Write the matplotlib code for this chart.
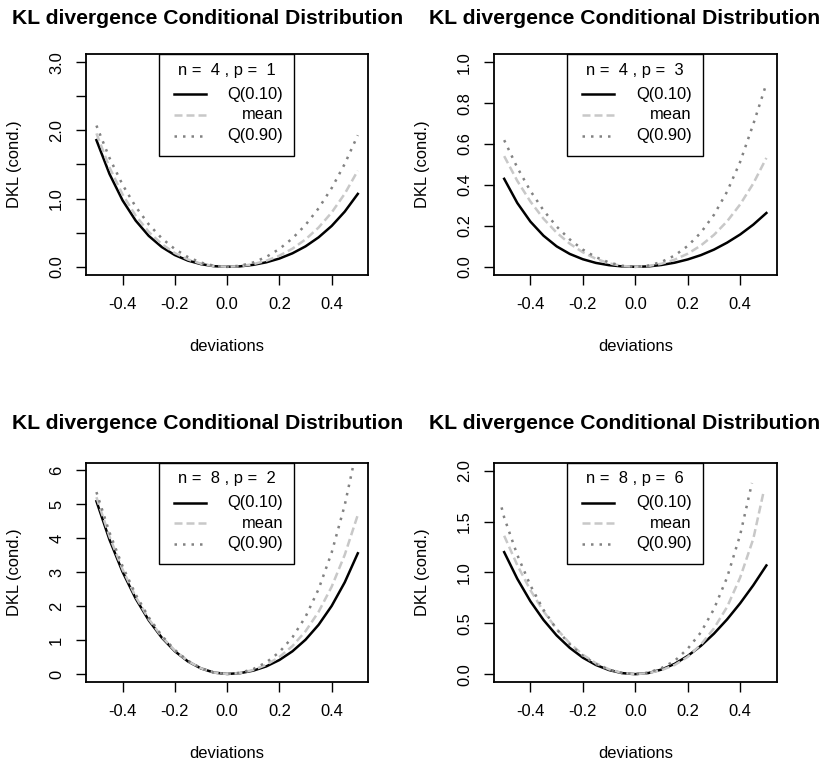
import matplotlib
matplotlib.use("Agg")
import matplotlib.pyplot as plt
from matplotlib.patches import Rectangle
from matplotlib.lines import Line2D

plt.rcParams['font.family'] = ['Liberation Sans', 'DejaVu Sans']

# deviations grid (x values)
devs = [-0.5, -0.45, -0.4, -0.35, -0.3, -0.25, -0.2, -0.15, -0.1, -0.05, 0.0,
        0.05, 0.1, 0.15, 0.2, 0.25, 0.3, 0.35, 0.4, 0.45, 0.5]

# n = 4, p = 1
p1_q10 = [1.857, 1.361, 0.974, 0.678, 0.454, 0.290, 0.172, 0.091, 0.039, 0.009, 0,
          0.007, 0.029, 0.066, 0.121, 0.198, 0.300, 0.432, 0.599, 0.809, 1.069]
p1_mean = [1.956, 1.457, 1.061, 0.751, 0.513, 0.333, 0.201, 0.108, 0.046, 0.011, 0,
           0.010, 0.039, 0.089, 0.164, 0.266, 0.402, 0.576, 0.796, 1.071, 1.410]
p1_q90 = [2.071, 1.596, 1.203, 0.882, 0.623, 0.418, 0.260, 0.143, 0.062, 0.015, 0,
          0.016, 0.064, 0.145, 0.262, 0.417, 0.614, 0.858, 1.154, 1.509, 1.929]

# n = 4, p = 3
p2_q10 = [0.430, 0.312, 0.221, 0.152, 0.100, 0.063, 0.037, 0.019, 0.008, 0.002, 0,
          0.002, 0.009, 0.020, 0.036, 0.057, 0.084, 0.118, 0.158, 0.206, 0.263]
p2_mean = [0.541, 0.420, 0.319, 0.235, 0.167, 0.113, 0.071, 0.039, 0.017, 0.004, 0,
           0.004, 0.015, 0.035, 0.064, 0.104, 0.156, 0.222, 0.305, 0.407, 0.532]
p2_q90 = [0.619, 0.485, 0.371, 0.276, 0.197, 0.134, 0.084, 0.047, 0.021, 0.005, 0,
          0.006, 0.024, 0.055, 0.102, 0.167, 0.254, 0.367, 0.513, 0.697, 0.895]

# n = 8, p = 2
p3_q10 = [5.081, 3.949, 3.003, 2.220, 1.580, 1.068, 0.668, 0.369, 0.162, 0.040, 0,
          0.024, 0.097, 0.223, 0.410, 0.667, 1.007, 1.446, 2.001, 2.695, 3.550]
p3_mean = [5.200, 4.043, 3.075, 2.273, 1.619, 1.094, 0.684, 0.378, 0.166, 0.041, 0,
           0.028, 0.116, 0.269, 0.499, 0.821, 1.256, 1.828, 2.566, 3.504, 4.680]
p3_q90 = [5.350, 4.160, 3.165, 2.340, 1.667, 1.127, 0.705, 0.389, 0.171, 0.042, 0,
          0.035, 0.145, 0.341, 0.643, 1.078, 1.681, 2.495, 3.571, 4.967, 6.750]

# n = 8, p = 6 (mean and Q(0.90) cover a different range)
p4_q10 = [1.200, 0.938, 0.717, 0.533, 0.381, 0.259, 0.162, 0.090, 0.040, 0.010, 0,
          0.011, 0.045, 0.101, 0.179, 0.278, 0.398, 0.538, 0.697, 0.874, 1.069]
p4_mean_x = [-0.5, -0.45, -0.4, -0.35, -0.3, -0.25, -0.2, -0.15, -0.1, -0.05, 0.0,
             0.05, 0.1, 0.15, 0.2, 0.25, 0.3, 0.35, 0.4, 0.45, 0.49]
p4_mean = [1.361, 1.072, 0.826, 0.618, 0.445, 0.304, 0.191, 0.107, 0.047, 0.012, 0,
           0.010, 0.040, 0.090, 0.170, 0.290, 0.450, 0.660, 0.950, 1.330, 1.800]
p4_q90_x = [-0.51, -0.5, -0.45, -0.4, -0.35, -0.3, -0.25, -0.2, -0.15, -0.1, -0.05, 0.0,
            0.05, 0.1, 0.15, 0.2, 0.25, 0.3, 0.35, 0.4, 0.445]
p4_q90 = [1.640, 1.541, 1.172, 0.873, 0.632, 0.442, 0.293, 0.181, 0.099, 0.043, 0.011, 0,
          0.015, 0.060, 0.130, 0.250, 0.410, 0.640, 0.950, 1.370, 1.880]

legend_titles = ["n =  4 , p =  1", "n =  4 , p =  3", "n =  8 , p =  2", "n =  8 , p =  6"]
legend_labels = ["Q(0.10)", "mean", "Q(0.90)"]

x_ticks = [-0.4, -0.2, 0.0, 0.2, 0.4]
x_tick_labels = ["-0.4", "-0.2", "0.0", "0.2", "0.4"]
y_ticks = [[0, 0.5, 1, 1.5, 2, 2.5, 3],
           [0, 0.2, 0.4, 0.6, 0.8, 1.0],
           [0, 1, 2, 3, 4, 5, 6],
           [0, 0.5, 1, 1.5, 2]]
y_tick_labels = [["0.0", "", "1.0", "", "2.0", "", "3.0"],
                 ["0.0", "0.2", "0.4", "0.6", "0.8", "1.0"],
                 ["0", "1", "2", "3", "4", "5", "6"],
                 ["0.0", "0.5", "1.0", "1.5", "2.0"]]
y_lims = [(-0.12, 3.12), (-0.04, 1.04), (-0.245, 6.216), (-0.08, 2.08)]

panels = [
    [(devs, p1_q10), (devs, p1_mean), (devs, p1_q90)],
    [(devs, p2_q10), (devs, p2_mean), (devs, p2_q90)],
    [(devs, p3_q10), (devs, p3_mean), (devs, p3_q90)],
    [(devs, p4_q10), (p4_mean_x, p4_mean), (p4_q90_x, p4_q90)],
]

styles = [dict(color='black', linestyle='-'),
          dict(color='#c8c8c8', linestyle=(0, (3.2, 1.6))),
          dict(color='#828282', linestyle=(0, (1.0, 2.4)))]

W, H = 822, 766
fig = plt.figure(figsize=(W / 100, H / 100), dpi=100)
positions = [(0.1046, 0.641, 0.3434, 0.2885), (0.6006, 0.641, 0.3445, 0.2885),
             (0.1046, 0.1093, 0.3434, 0.2867), (0.6006, 0.1093, 0.3445, 0.2867)]
# title anchor (centre x, baseline y) in pixels
title_xy = [(207.5, 23.5), (625, 23.5), (207.5, 428.5), (625, 428.5)]

fs = 11.9
for i, pos in enumerate(positions):
    ax = fig.add_axes(pos)
    for (xs, ys), st in zip(panels[i], styles):
        ax.plot(xs, ys, lw=1.8, **st)
    ax.set_xlim(-0.54, 0.54)
    ax.set_ylim(*y_lims[i])
    ax.set_xticks(x_ticks)
    ax.set_xticklabels(x_tick_labels)
    ax.set_yticks(y_ticks[i])
    ax.set_yticklabels(y_tick_labels[i], rotation=90, va='center')
    ax.tick_params(direction='out', length=7.2, width=1, labelsize=fs, pad=8.5)
    for sp in ax.spines.values():
        sp.set_linewidth(1.3)
    tx, ty = title_xy[i]
    fig.text(tx / W, 1 - ty / H, "KL divergence Conditional Distribution",
             fontsize=15.2, fontweight='bold', ha='center', va='baseline')
    ax.set_xlabel("deviations", fontsize=fs)
    ax.xaxis.set_label_coords(0.5, -0.29)
    ax.set_ylabel("DKL (cond.)", fontsize=fs)
    ax.yaxis.set_label_coords(-0.225, 0.5)

    # R-style legend at the top
    ax.add_patch(Rectangle((0.26, 0.538), 0.478, 0.462, transform=ax.transAxes,
                           fill=False, lw=1, edgecolor='black', clip_on=False))
    ax.text(0.499, 0.926, legend_titles[i], transform=ax.transAxes,
            ha='center', va='center', fontsize=fs)
    for ry, lab, st in zip([0.817, 0.724, 0.630], legend_labels, styles):
        ax.add_line(Line2D([0.312, 0.424], [ry, ry], transform=ax.transAxes, lw=1.8, **st))
        ax.text(0.699, ry, lab, transform=ax.transAxes, ha='right', va='center', fontsize=fs)

fig.savefig("out.png", dpi=100)
